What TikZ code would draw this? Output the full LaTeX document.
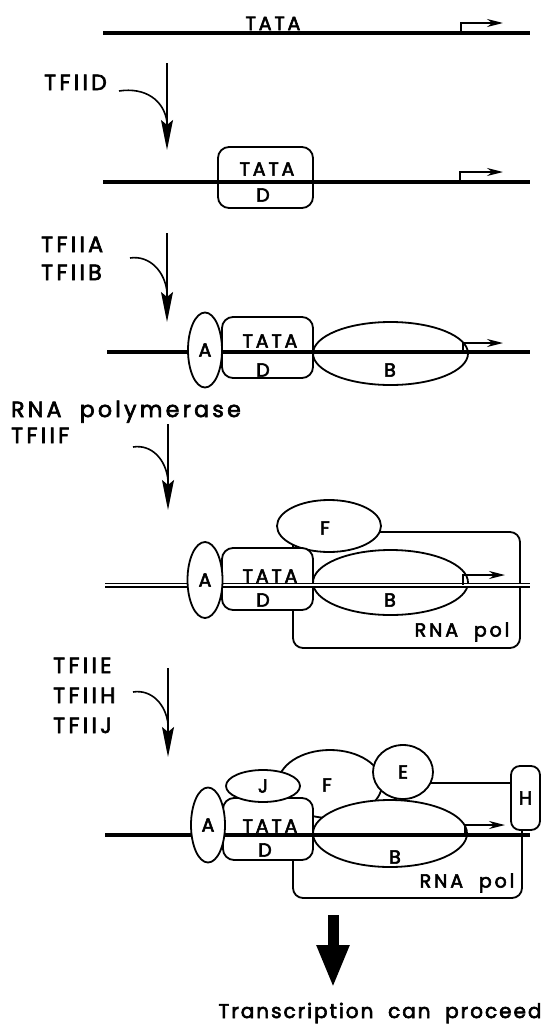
\documentclass[tikz,border=0pt]{standalone}
\usepackage{fontspec}
\setmainfont{Poppins}
\newfontfamily\labfont{Poppins}[LetterSpace=15,FakeBold=3]
\newfontfamily\finfont{Poppins}[LetterSpace=10,FakeBold=3]
\usetikzlibrary{arrows.meta,shapes.geometric}
\begin{document}
\begin{tikzpicture}[x=1pt,y=-1pt,
 dna/.style={line width=4.2pt},
 dnadbl/.style={double=white, double distance=2.4pt, line width=1.3pt},
 outl/.style={draw, line width=1.8pt, fill=white, inner sep=0pt},
 ovalbox/.style={outl, ellipse},
 rbox/.style={outl, rectangle, rounded corners=11pt},
 lab/.style={font=\fontsize{22}{26}\selectfont\labfont, inner sep=0pt, anchor=base west},
 inl/.style={font=\fontsize{19}{22}\selectfont\labfont, inner sep=0pt},
 stepar/.style={line width=1.6pt, -{Stealth[length=30pt,width=12pt,inset=5pt]}},
 feed/.style={line width=1.6pt},
 prom/.style={line width=1.6pt, -{Stealth[length=16pt,width=8pt]}},
]
\fill[white] (0,0) rectangle (549,1036);
\useasboundingbox (0,0) rectangle (549,1036);

% ---------- stage 1
\coordinate (d1a) at (103,33); \coordinate (d1b) at (530,33);
\draw[dna] (d1a) -- (d1b);
\node[inl, anchor=base] (t1) at (273,30) {TATA};
\coordinate (p1) at (461,33); \coordinate (p1e) at (503,23);
\draw[prom] (p1) |- (p1e);

% ---------- arrow 1
\coordinate (v1a) at (167,63); \coordinate (v1b) at (167,150);
\draw[stepar] (v1a) -- (v1b);
\node[lab] (l1) at (44,90) {TFIID};
\coordinate (f1a) at (119,91); \coordinate (f1b) at (167,122);
\draw[feed] (f1a) .. controls (145,87) and (164,100) .. (f1b);

% ---------- stage 2
\node[rbox, minimum width=95pt, minimum height=61pt] (box2) at (265.5,177.5) {};
\coordinate (d2a) at (103,182); \coordinate (d2b) at (530,182);
\draw[dna] (d2a) -- (d2b);
\node[inl] (t2) at (267,169) {TATA};
\node[inl] (dd2) at (263,195) {D};
\coordinate (p2) at (460,182); \coordinate (p2e) at (503,172);
\draw[prom] (p2) |- (p2e);

% ---------- arrow 2
\coordinate (v2a) at (167,233); \coordinate (v2b) at (167,322);
\draw[stepar] (v2a) -- (v2b);
\node[lab] (l2a) at (41,252) {TFIIA};
\node[lab] (l2b) at (41,280) {TFIIB};
\coordinate (f2a) at (130,258); \coordinate (f2b) at (167,292);
\draw[feed] (f2a) .. controls (150,255) and (165,272) .. (f2b);

% ---------- stage 3
\node[rbox, minimum width=91pt, minimum height=61pt] (box3) at (267.5,347.5) {};
\node[ovalbox, minimum width=155pt, minimum height=63pt] (b3) at (390.5,353.5) {};
\coordinate (d3a) at (107,352); \coordinate (d3b) at (530,352);
\draw[dna] (d3a) -- (d3b);
\coordinate (p3) at (463,352); \coordinate (p3e) at (503,343);
\draw[prom] (p3) |- (p3e);
\node[ovalbox, minimum width=34pt, minimum height=75pt, font=\fontsize{19}{22}\selectfont\labfont] (a3) at (205,350) {A};
\node[inl] (t3) at (270,341) {TATA};
\node[inl] (dd3) at (263,370) {D};
\node[inl] (bl3) at (390,370) {B};

% ---------- arrow 3
\coordinate (v3a) at (168,424); \coordinate (v3b) at (168,510);
\draw[stepar] (v3a) -- (v3b);
\node[lab] (l3a) at (11,417) {RNA\ \ polymerase};
\node[lab] (l3b) at (11,443) {TFIIF};
\coordinate (f3a) at (133,447); \coordinate (f3b) at (168,480);
\draw[feed] (f3a) .. controls (152,444) and (166,460) .. (f3b);

% ---------- stage 4
\node[rbox, rounded corners=10pt, minimum width=227pt, minimum height=116pt] (pol4) at (406.5,590) {};
\node[ovalbox, minimum width=104pt, minimum height=52pt] (f4) at (329,526) {};
\node[rbox, minimum width=91pt, minimum height=62pt] (box4) at (267.5,579) {};
\node[ovalbox, minimum width=155pt, minimum height=65pt] (b4) at (390.5,582.5) {};
\coordinate (d4a) at (105,585); \coordinate (d4b) at (530,585);
\draw[dnadbl] (d4a) -- (d4b);
\coordinate (p4) at (463,585); \coordinate (p4e) at (505,575);
\draw[prom] (p4) |- (p4e);
\node[ovalbox, minimum width=35pt, minimum height=76pt, font=\fontsize{19}{22}\selectfont\labfont] (a4) at (205,580) {A};
\node[inl] (fl4) at (325,528) {F};
\node[inl] (t4) at (270,576) {TATA};
\node[inl] (dd4) at (263,600) {D};
\node[inl] (bl4) at (390,600) {B};
\node[inl] (r4) at (462,632) {RNA\ \ pol};

% ---------- arrow 4
\coordinate (v4a) at (168,668); \coordinate (v4b) at (168,757);
\draw[stepar] (v4a) -- (v4b);
\node[lab] (l4a) at (53,673) {TFIIE};
\node[lab] (l4b) at (53,703) {TFIIH};
\node[lab] (l4c) at (53,733) {TFIIJ};
\coordinate (f4a) at (133,692); \coordinate (f4b) at (168,724);
\draw[feed] (f4a) .. controls (152,689) and (166,705) .. (f4b);

% ---------- stage 5
\node[rbox, rounded corners=10pt, minimum width=229pt, minimum height=115pt] (pol5) at (407.5,840.5) {};
\node[ovalbox, minimum width=104pt, minimum height=68pt] (f5) at (330,784) {};
\node[ovalbox, minimum width=60pt, minimum height=54pt, font=\fontsize{19}{22}\selectfont\labfont] (e5) at (403,772) {E};
\node[rbox, minimum width=90pt, minimum height=62pt] (box5) at (268,829) {};
\node[ovalbox, minimum width=74pt, minimum height=32pt, font=\fontsize{19}{22}\selectfont\labfont] (j5) at (263,786) {J};
\node[ovalbox, minimum width=154pt, minimum height=67pt] (b5) at (390,833.5) {};
\coordinate (d5a) at (105,835); \coordinate (d5b) at (530,835);
\draw[dna] (d5a) -- (d5b);
\coordinate (p5) at (465,835); \coordinate (p5e) at (505,825);
\draw[prom] (p5) |- (p5e);
\node[ovalbox, minimum width=34pt, minimum height=75pt, font=\fontsize{19}{22}\selectfont\labfont] (a5) at (208,825) {A};
\node[rbox, rounded corners=9pt, minimum width=29pt, minimum height=64pt, font=\fontsize{19}{22}\selectfont\labfont] (h5) at (525.5,798) {H};
\node[inl] (fl5) at (327,785) {F};
\node[inl] (t5) at (270,826) {TATA};
\node[inl] (dd5) at (265,850) {D};
\node[inl] (bl5) at (395,857) {B};
\node[inl] (r5) at (467,883) {RNA\ \ pol};

% ---------- final arrow
\coordinate (fa) at (333,915); \coordinate (fb) at (333,988);
\draw[line width=11pt, -{Triangle[length=43pt,width=30pt]}] (fa) -- (fb);
\node[anchor=base, inner sep=0pt, font=\fontsize{20}{24}\selectfont\finfont] (fin) at (380,1018) {Transcription\ \ can\ \ proceed};
\end{tikzpicture}
\end{document}
